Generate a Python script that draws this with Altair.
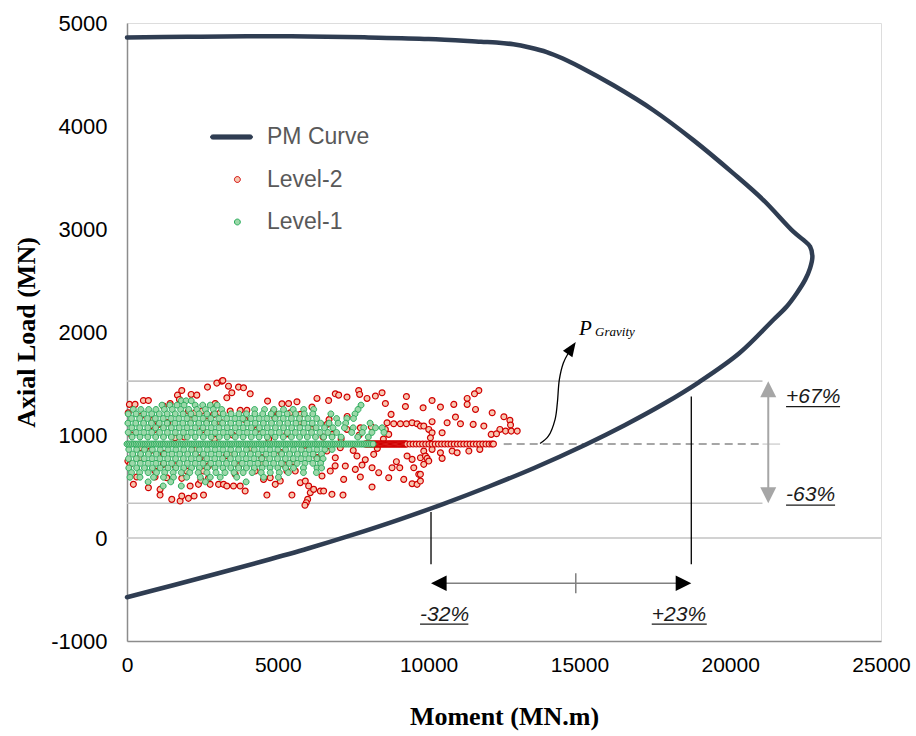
import altair as alt
import pandas as pd

# ---- PM interaction curve: from the tension end, round the balance point, back to pure compression
pm_moment = [0, 1500, 3000, 4500, 6000, 7500, 9000, 10500, 12000, 13500,
             15200, 16500, 17800, 18970, 20300, 21433, 21875, 22207, 22483, 22649,
             22725, 22649, 22427, 22095, 21100, 20105, 18779, 17453, 16127, 15022,
             14450, 13917, 13350, 12810, 12250, 11735, 10000, 8000, 6000, 4000,
             2000, 0]
pm_load = [-575, -461, -345, -226, -102, 32, 176, 332, 500, 680,
           906, 1095, 1303, 1514, 1793, 2119, 2248, 2377, 2506, 2620,
           2732, 2829, 2894, 2974, 3281, 3540, 3863, 4153, 4395, 4573,
           4655, 4718, 4762, 4793, 4810, 4818, 4845, 4860, 4870, 4872,
           4866, 4860]

# ---- gravity load and the range annotations
P_GRAVITY = 912
P_UP_PCT, P_DOWN_PCT = 67, -63
M_LOW, M_MID, M_HIGH = 10080, 14880, 18710
M_PCT_LOW, M_PCT_HIGH = -32, 23

# ---- Level-2 demand points (moment, axial load)
level2_above = [(80, 1297), (266, 1297), (40, 1216), (543, 1335), (709, 1335), (1207, 1280), (1429, 1306),
                (1816, 1432), (1672, 1387), (1738, 1345), (2126, 1394), (2314, 1387), (2668, 1465), (2978, 1504),
                (3144, 1523), (2037, 1232), (2259, 1216), (2480, 1232), (2923, 1306), (3089, 1216),
                (3177, 1529), (3365, 1474), (3475, 1410), (3697, 1465), (3863, 1458), (4084, 1400), (3310, 1361),
                (4660, 1329), (5136, 1303), (5357, 1306), (5634, 1323), (6132, 1271), (6298, 1355), (3420, 1232),
                (3752, 1239), (3974, 1239), (4859, 1232), (5413, 1216), (5745, 1200),
                (6906, 1400), (7017, 1387), (7294, 1368), (6685, 1335), (7681, 1432), (7714, 1394), (7958, 1355),
                (8235, 1378), (8456, 1410), (8567, 1306), (9264, 1374), (9231, 1277), (8755, 1200), (8622, 1119),
                (8843, 1109), (9065, 1109), (9264, 1109), (9452, 1119), (9618, 1109), (9729, 1087), (8567, 1054),
                (8677, 1006),
                (11665, 1432), (11521, 1400), (11278, 1355), (11278, 1297), (10835, 1297), (10115, 1335),
                (10392, 1271), (9817, 1264), (11555, 1248), (10890, 1174), (10115, 1129), (10614, 1119),
                (11056, 1109), (11477, 1103), (11831, 1087), (12108, 1216), (12496, 1177), (12695, 1142),
                (12717, 1097), (12363, 1054), (12551, 1038), (12739, 1038), (12938, 1038), (12075, 1006),
                (12252, 1012), (9839, 1087), (10005, 1054), (10115, 1022), (10448, 1022), (10060, 973)]

level2_below = [(211, 521), (709, 488), (1096, 472), (1096, 417), (1484, 375), (1761, 359), (1816, 408),
                (2037, 385), (2225, 408), (2369, 521), (2447, 560), (2536, 417), (2757, 521), (3034, 521),
                (2093, 505), (1816, 579), (322, 592), (930, 592), (1318, 585), (2536, 650), (2701, 579),
                (30, 747), (100, 715), (432, 779), (930, 650), (1982, 650), (1207, 715), (764, 844), (2425, 779),
                (3199, 521), (3310, 505), (3531, 505), (3752, 505), (3586, 618), (3918, 456), (4527, 569),
                (4748, 585), (4915, 521), (5081, 553), (4638, 417), (5468, 417), (5579, 650), (5745, 537),
                (5911, 553), (6022, 505), (6077, 440), (5989, 375), (5944, 343), (5900, 318), (6188, 472),
                (6409, 456), (6465, 602), (5302, 650), (4250, 650), (3420, 812), (4472, 779), (5191, 715),
                (6519, 456), (6795, 424), (7161, 417), (6740, 650), (7238, 699), (7570, 666), (7792, 708),
                (8124, 682), (8345, 634), (8124, 495), (7736, 592), (7183, 569), (8677, 585), (8788, 682),
                (9043, 682), (8932, 741), (9175, 569), (9452, 527), (9618, 521), (9674, 618), (9508, 682),
                (9286, 796), (9452, 763), (9729, 779), (8179, 812), (7625, 796), (6906, 779), (6629, 844),
                (7072, 876),
                (10115, 860), (10392, 828), (10780, 844), (10946, 828), (11334, 844), (11698, 860),
                (10448, 773), (9839, 844), (9894, 796), (9949, 773), (10005, 747), (9839, 715), (9728, 618),
                (9728, 553)]

level2_inside = [(875, 1151), (2646, 1135), (2868, 1200), (1595, 973), (432, 876), (1041, 1103), (150, 1000),
                 (450, 1180), (700, 880), (900, 1050), (1200, 820), (1350, 1120), (1600, 700), (1900, 980),
                 (2100, 1150), (2300, 860), (2500, 1050), (2700, 700), (2900, 960), (3100, 1120), (3300, 800),
                 (3500, 1000), (3700, 700), (3900, 1150), (4100, 870), (4300, 1050), (4500, 720), (4700, 960),
                 (4900, 1170), (5100, 830), (5300, 1010), (5500, 740), (5700, 1120), (5900, 900), (6100, 1060),
                 (6300, 780), (6500, 980), (6700, 1150), (6900, 700), (7100, 960), (7300, 1180), (7500, 850),
                 (7700, 1000), (7900, 760), (8100, 1080), (8300, 870), (8500, 960), (7736, 1070), (7294, 1054),
                 (6795, 1006), (6629, 1103)]

# Level-2 points sitting on the gravity load line (moments)
level2_band = [7900, 7930, 7960, 7990, 8020, 8050, 8080, 8110, 8140, 8170, 8200, 8230, 8260, 8290, 8320,
               8350, 8380, 8410, 8440, 8470, 8500, 8530, 8560, 8590, 8620, 8650, 8680, 8710, 8740, 8770,
               8800, 8830, 8860, 8890, 8920, 8950, 8980, 9010, 9040, 9070, 9100, 9130, 9160, 9190, 9220,
               9250, 9280, 9380, 9485, 9590, 9695, 9800, 9905, 10010, 10115, 10220, 10325, 10430, 10535,
               10640, 10745, 10850, 10955, 11060, 11165, 11270, 11375, 11480, 11585, 11690, 11795, 11900,
               12005, 12100, 12150]

# ---- Level-1 demand points, listed row by row (axial load of the row, moments in that row)
level1_row_loads = [1332, 1290, 1248, 1205, 1160, 1115, 1070, 1025, 980,
                    860, 815, 770, 725, 680, 635, 590, 545, 505]
level1_row_moments = [
    [1800, 1960, 2130],
    [1160, 1420, 1660, 1890, 2260, 2510, 2760, 2990, 7760],
    [210, 460, 720, 960, 1240, 1500, 1780, 2050, 2320, 2600, 2860, 3140, 4230, 4560, 4870, 5190, 5510, 5860,
     6190, 7660],
    [40, 300, 560, 820, 1070, 1330, 1600, 1860, 2120, 2390, 2650, 2910, 3190, 3450, 3710, 3960, 4240, 4500,
     4780, 5040, 5310, 5590, 5880, 6160, 6760, 7560],
    [150, 420, 680, 940, 1200, 1460, 1720, 1990, 2250, 2520, 2780, 3050, 3310, 3580, 3840, 4110, 4380, 4640,
     4910, 5180, 5450, 5720, 6000, 6290, 6950, 7290, 7510],
    [30, 290, 550, 810, 1070, 1330, 1590, 1850, 2110, 2380, 2640, 2900, 3170, 3440, 3710, 3980, 4250, 4520,
     4790, 5060, 5330, 5600, 5870, 6140, 6420, 6700, 7000, 7250, 8060],
    [160, 420, 690, 950, 1210, 1470, 1730, 1990, 2260, 2520, 2790, 3050, 3320, 3590, 3850, 4120, 4390, 4650,
     4920, 5190, 5460, 5730, 6000, 6270, 6550, 6830, 7210, 7500, 7850, 8240, 8460],
    [40, 300, 560, 820, 1080, 1340, 1600, 1870, 2130, 2400, 2660, 2920, 3190, 3450, 3720, 3980, 4250, 4510,
     4780, 5050, 5320, 5580, 5850, 6120, 6400, 6660, 6950, 7450, 7800, 8120, 8520],
    [170, 430, 690, 950, 1210, 1470, 1740, 2000, 2260, 2530, 2790, 3060, 3320, 3590, 3850, 4120, 4380, 4650,
     4910, 5180, 5450, 5720, 5980, 6250, 6520, 6800, 7100, 7650, 8000],
    [60, 320, 580, 840, 1100, 1360, 1620, 1880, 2140, 2400, 2660, 2920, 3180, 3440, 3700, 3960, 4220, 4480,
     4740, 5000, 5260, 5520, 5780, 6040, 6300, 6560, 6800],
    [190, 450, 710, 970, 1230, 1490, 1750, 2010, 2270, 2530, 2790, 3050, 3310, 3570, 3830, 4090, 4350, 4610,
     4870, 5130, 5390, 5650, 5910, 6170, 6450],
    [50, 310, 570, 830, 1090, 1350, 1610, 1870, 2130, 2390, 2650, 2910, 3170, 3430, 3690, 3950, 4210, 4470,
     4730, 4990, 5250, 5510, 5770, 6030, 6300, 6500],
    [180, 440, 700, 960, 1220, 1480, 1740, 2000, 2260, 2520, 2780, 3040, 3300, 3560, 3820, 4080, 4340, 4600,
     4860, 5120, 5380, 5640, 5900, 6160, 6420],
    [60, 320, 580, 840, 1100, 1360, 1620, 1880, 2140, 2400, 2660, 2920, 3180, 3440, 3700, 3960, 4220, 4480,
     4740, 5000, 5260, 5520, 5850, 6300, 6450],
    [150, 420, 700, 980, 1250, 1530, 1800, 2080, 2360, 2650, 2950, 3250, 3550, 3850, 4150, 4450, 4750, 5050,
     5350, 5850, 6280],
    [100, 430, 880, 1210, 1540, 1980, 2430, 2760, 3090, 3640, 4530, 5020],
    [700, 1450, 2600, 3950],
    [1200, 1800],
]

# Level-1 points sitting on the gravity load line (moments)
level1_band = [0, 60, 120, 180, 240, 300, 360, 420, 480, 540, 600, 660, 720, 780, 840, 900, 960, 1020, 1080,
               1140, 1200, 1260, 1320, 1380, 1440, 1500, 1560, 1620, 1680, 1740, 1800, 1860, 1920, 1980, 2040,
               2100, 2160, 2220, 2280, 2340, 2400, 2460, 2520, 2580, 2640, 2700, 2760, 2820, 2880, 2940, 3000,
               3060, 3120, 3180, 3240, 3300, 3360, 3420, 3480, 3540, 3600, 3660, 3720, 3780, 3840, 3900, 3960,
               4020, 4080, 4140, 4200, 4260, 4320, 4380, 4440, 4500, 4560, 4620, 4680, 4740, 4800, 4860, 4920,
               4980, 5040, 5100, 5160, 5220, 5280, 5340, 5400, 5460, 5520, 5580, 5640, 5700, 5760, 5820, 5880,
               5940, 6000, 6060, 6120, 6180, 6240, 6300, 6360, 6420, 6480, 6540, 6600, 6660, 6720, 6780, 6840,
               6900, 6960, 7020, 7080, 7140, 7200, 7260, 7320, 7380, 7440, 7500, 7560, 7620, 7680, 7740, 7800,
               7860, 7920, 7980, 8040, 8100, 8160]

# ---------------------------------------------------------------------------
SERIES = ["PM Curve", "Level-2", "Level-1"]

pm_df = pd.DataFrame({"moment": pm_moment, "load": pm_load,
                      "order": list(range(len(pm_moment))), "series": "PM Curve"})
l2_pts = level2_inside + level2_below + level2_above + [(m, P_GRAVITY) for m in level2_band]
l2_df = pd.DataFrame({"moment": [p[0] for p in l2_pts], "load": [p[1] for p in l2_pts], "series": "Level-2"})
l1_m, l1_p = [], []
for load, row in zip(level1_row_loads, level1_row_moments):
    l1_m += row
    l1_p += [load] * len(row)
l1_m += level1_band
l1_p += [P_GRAVITY] * len(level1_band)
l1_df = pd.DataFrame({"moment": l1_m, "load": l1_p, "series": "Level-1"})

signed = "datum.value < 0 ? '-' + format(-datum.value, 'd') : format(datum.value, 'd')"
X = alt.X("moment:Q", scale=alt.Scale(domain=[0, 25000], nice=False, zero=False),
          axis=alt.Axis(title="Moment (MN.m)", values=[0, 5000, 10000, 15000, 20000, 25000], labelExpr=signed,
                        ticks=False, grid=False, labelFlush=False, labelFont="Liberation Sans",
                        labelFontSize=21, labelColor="#000000", labelPadding=13,
                        domainColor="#8c8c8c", domainWidth=1.5,
                        titleFont="Liberation Serif", titleFontSize=26, titleFontWeight="bold",
                        titleColor="#000000", titlePadding=28))
Y = alt.Y("load:Q", scale=alt.Scale(domain=[-1000, 5000], nice=False, zero=False),
          axis=alt.Axis(title="Axial Load (MN)", values=[-1000, 0, 1000, 2000, 3000, 4000, 5000], labelExpr=signed,
                        ticks=False, grid=False, labelFlush=False, labelFont="Liberation Sans",
                        labelFontSize=22, labelColor="#000000", labelPadding=20,
                        domainColor="#8c8c8c", domainWidth=1.5,
                        titleFont="Liberation Serif", titleFontSize=26, titleFontWeight="bold",
                        titleColor="#000000", titlePadding=11))

# Symbols are drawn at a common size of 1764 (a 42 px box): the curve key is a rounded bar filling the box,
# the scatter points are small circles, offset a little to the right inside the box.
SYMBOL_SIZE = 1764
BAR = "M-0.9,-0.1L0.9,-0.1A0.1,0.1 0 0,1 0.9,0.1L-0.9,0.1A0.1,0.1 0 0,1 -0.9,-0.1Z"
DOT = "M0.42,0A0.14,0.14 0 1,1 0.14,0A0.14,0.14 0 1,1 0.42,0Z"
DOT_SHIFT = -0.28 * 21

legend = alt.Legend(title=None, orient="none", legendX=83, legendY=93, padding=0, rowPadding=0.5,
                    clipHeight=42, labelFont="Liberation Sans", labelFontSize=23, labelColor="#595959",
                    labelOffset=14, labelLimit=300, symbolOpacity=1, symbolSize=SYMBOL_SIZE,
                    symbolStrokeWidth=1)
stroke_enc = alt.Stroke("series:N", legend=legend,
                        scale=alt.Scale(domain=SERIES, range=["#2f3d52", "#d10000", "#2aac5c"]))
fill_enc = alt.Fill("series:N", legend=legend,
                    scale=alt.Scale(domain=SERIES, range=["#2f3d52", "#f7c6b0", "#9cd8a9"]))
shape_enc = alt.Shape("series:N", legend=legend,
                      scale=alt.Scale(domain=SERIES, range=[BAR, DOT, DOT]))

level2 = alt.Chart(l2_df).mark_point(filled=True, opacity=1, size=SYMBOL_SIZE, strokeWidth=1.2,
                                      xOffset=DOT_SHIFT).encode(
    x=X, y=Y, stroke=stroke_enc, fill=fill_enc, shape=shape_enc)
level1 = alt.Chart(l1_df).mark_point(filled=True, opacity=1, size=SYMBOL_SIZE, strokeWidth=1,
                                      xOffset=DOT_SHIFT).encode(
    x=X, y=Y, stroke=stroke_enc, fill=fill_enc, shape=shape_enc)
curve = alt.Chart(pm_df).mark_line(interpolate="catmull-rom", strokeWidth=4.5, strokeCap="round",
                                   strokeJoin="round").encode(
    x=X, y=Y, order="order:Q", stroke=stroke_enc)


def segments(rows):
    return pd.DataFrame(rows, columns=["moment", "load", "moment2", "load2"])


p_up = P_GRAVITY * (1 + P_UP_PCT / 100)
p_down = P_GRAVITY * (1 + P_DOWN_PCT / 100)
M_ARROW = 21262
LINE_END = 21070

light_rules = alt.Chart(segments([
    (0, 0, 25000, 0),
    (0, p_up, LINE_END, p_up),
    (0, p_down, LINE_END, p_down),
])).mark_rule(color="#c3c3c3", strokeWidth=1.6).encode(x=X, y=Y, x2="moment2:Q", y2="load2:Q")

gravity_line = alt.Chart(segments([(12490, P_GRAVITY, LINE_END, P_GRAVITY)])).mark_rule(
    color="#a6a6a6", strokeWidth=2, strokeDash=[8, 5]).encode(x=X, y=Y, x2="moment2:Q", y2="load2:Q")
gravity_tick = alt.Chart(segments([(LINE_END, P_GRAVITY, 21654, P_GRAVITY)])).mark_rule(
    color="#bdbdbd", strokeWidth=1).encode(x=X, y=Y, x2="moment2:Q", y2="load2:Q")
v_arrow = alt.Chart(segments([(M_ARROW, p_down + 60, M_ARROW, p_up - 60)])).mark_rule(
    color="#a6a6a6", strokeWidth=2).encode(x=X, y=Y, x2="moment2:Q", y2="load2:Q")
v_head_up = alt.Chart(pd.DataFrame({"moment": [M_ARROW], "load": [p_up]})).mark_point(
    shape="M0,0L1,2L-1,2Z", size=256, filled=True, opacity=1, color="#a6a6a6").encode(x=X, y=Y)
v_head_down = alt.Chart(pd.DataFrame({"moment": [M_ARROW], "load": [p_down]})).mark_point(
    shape="M0,0L1,-2L-1,-2Z", size=256, filled=True, opacity=1, color="#a6a6a6").encode(x=X, y=Y)

black_rules = alt.Chart(segments([
    (M_LOW, 252, M_LOW, -255),
    (M_HIGH, 1373, M_HIGH, -255),
])).mark_rule(color="#000000", strokeWidth=1.3).encode(x=X, y=Y, x2="moment2:Q", y2="load2:Q")
h_arrow = alt.Chart(segments([
    (M_LOW + 300, -439, M_HIGH - 300, -439),
    (M_MID, -342, M_MID, -536),
])).mark_rule(color="#808080", strokeWidth=1.5).encode(x=X, y=Y, x2="moment2:Q", y2="load2:Q")
h_head_left = alt.Chart(pd.DataFrame({"moment": [M_LOW], "load": [-439]})).mark_point(
    shape="M0,0L2,-1L2,1Z", size=243, filled=True, opacity=1, color="#000000").encode(x=X, y=Y)
h_head_right = alt.Chart(pd.DataFrame({"moment": [M_HIGH], "load": [-439]})).mark_point(
    shape="M0,0L-2,-1L-2,1Z", size=243, filled=True, opacity=1, color="#000000").encode(x=X, y=Y)

# curved pointer to the gravity load label
pointer_df = pd.DataFrame({
    "moment": [13695, 13970, 14192, 14269, 14335, 14468, 14634],
    "load": [917, 988, 1150, 1312, 1537, 1699, 1796],
})
pointer_df["order"] = range(len(pointer_df))
pointer = alt.Chart(pointer_df).mark_line(interpolate="catmull-rom", color="#000000", strokeWidth=1.3).encode(
    x=X, y=Y, order="order:Q")
pointer_head = alt.Chart(pd.DataFrame({"moment": [14879], "load": [1903]})).mark_point(
    shape="M0,0L0.75,1.9L-0.75,1.9Z", size=231, angle=34, filled=True, opacity=1, color="#000000").encode(
    x=X, y=Y)

p_letter = alt.Chart(pd.DataFrame({"moment": [14990], "load": [1973], "label": ["P"]})).mark_text(
    align="left", baseline="alphabetic", font="Liberation Serif", fontStyle="italic", fontSize=21,
    color="#000000").encode(x=X, y=Y, text="label:N")
p_sub = alt.Chart(pd.DataFrame({"moment": [15519], "load": [1960], "label": ["Gravity"]})).mark_text(
    align="left", baseline="alphabetic", font="Liberation Serif", fontStyle="italic", fontSize=13,
    color="#000000").encode(x=X, y=Y, text="label:N")

pct_df = pd.DataFrame({
    "moment": [21852, 21852, 9716, 17399],
    "load": [1373, 417, -749, -749],
    "label": [f"+{P_UP_PCT}%", f"{P_DOWN_PCT}%", f"{M_PCT_LOW}%", f"+{M_PCT_HIGH}%"],
})
pct_text = alt.Chart(pct_df).mark_text(
    align="left", baseline="middle", font="Liberation Sans", fontStyle="italic", fontSize=21,
    color="#1a1a1a").encode(x=X, y=Y, text="label:N")
underlines = alt.Chart(segments([
    (21852, 1276, 23643, 1276),
    (21852, 320, 23477, 320),
    (9716, -836, 11318, -836),
    (17399, -836, 19223, -836),
])).mark_rule(color="#1a1a1a", strokeWidth=1.2).encode(x=X, y=Y, x2="moment2:Q", y2="load2:Q")

chart = alt.layer(
    light_rules, gravity_line, gravity_tick, v_arrow, v_head_up, v_head_down,
    level2, level1, curve,
    black_rules, h_arrow, h_head_left, h_head_right,
    pointer, pointer_head, p_letter, p_sub, pct_text, underlines,
).properties(
    width=754, height=618,
    autosize=alt.AutoSizeParams(type="none"),
    padding={"left": 127, "top": 23, "right": 35, "bottom": 95},
).configure_view(
    stroke="#8c8c8c", strokeWidth=1.5,
).configure(background="white")

chart.save("out.html", embed_options={"renderer": "svg", "actions": False})
